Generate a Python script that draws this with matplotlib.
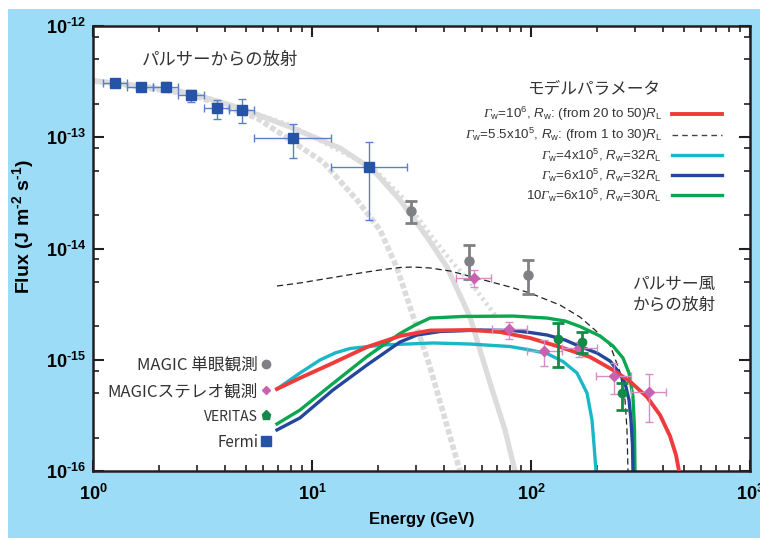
import numpy as np
import matplotlib
matplotlib.use("Agg")
import matplotlib.pyplot as plt
from matplotlib.lines import Line2D
from matplotlib.patches import Rectangle
from matplotlib.ticker import LogLocator, NullFormatter, FixedLocator, FixedFormatter

plt.rcParams['font.family'] = ['Liberation Sans', 'Noto Sans CJK JP', 'DejaVu Sans']
plt.rcParams['mathtext.fontset'] = 'custom'
plt.rcParams['mathtext.rm'] = 'Liberation Sans'
plt.rcParams['mathtext.it'] = 'Liberation Sans:italic'
plt.rcParams['mathtext.bf'] = 'Liberation Sans:bold'
plt.rcParams['mathtext.cal'] = 'Liberation Serif:italic'

JP = ['Noto Sans CJK JP', 'DejaVu Sans']

# ---------------- data ----------------
# Fermi (blue squares)
fermi_e = [1.26, 1.65, 2.15, 2.80, 3.67, 4.78, 8.16, 18.15]
fermi_e_lo = [1.107, 1.434, 1.885, 2.452, 3.213, 4.193, 5.45, 12.17]
fermi_e_hi = [1.434, 1.885, 2.452, 3.213, 4.193, 5.45, 12.17, 27.06]
fermi_f = [3.05e-13, 2.81e-13, 2.85e-13, 2.38e-13, 1.82e-13, 1.75e-13, 9.78e-14, 5.44e-14]
fermi_f_hi = [3.19e-13, 2.95e-13, 3.13e-13, 2.66e-13, 2.16e-13, 2.19e-13, 1.307e-13, 9.12e-14]
fermi_f_lo = [2.92e-13, 2.68e-13, 2.60e-13, 2.07e-13, 1.45e-13, 1.335e-13, 6.55e-14, 1.80e-14]

# MAGIC mono (gray circles)
mono_e = [28.2, 52.3, 97.2]
mono_f = [2.17e-14, 7.77e-15, 5.74e-15]
mono_f_hi = [2.69e-14, 1.075e-14, 7.88e-15]
mono_f_lo = [1.68e-14, 5.32e-15, 3.90e-15]

# MAGIC stereo (magenta diamonds)
stereo_e = [55.1, 79.6, 114.7, 166.2, 239.3, 346.9]
stereo_e_lo = [45.5, 66.2, 95.6, 138.1, 197.4, 286.1]
stereo_e_hi = [65.7, 95.6, 138.1, 199.6, 285.3, 413.5]
stereo_f = [5.40e-15, 1.88e-15, 1.19e-15, 1.28e-15, 7.15e-16, 5.16e-16]
stereo_f_hi = [6.41e-15, 2.20e-15, 1.505e-15, 1.45e-15, 9.41e-16, 7.45e-16]
stereo_f_lo = [4.48e-15, 1.53e-15, 8.79e-16, 1.065e-15, 4.89e-16, 2.77e-16]

# VERITAS (green)
ver_e = [133.3, 170.1, 261.2]
ver_f = [1.527e-15, 1.444e-15, 4.99e-16]
ver_f_hi = [2.155e-15, 1.787e-15, 6.22e-16]
ver_f_lo = [8.66e-16, 1.143e-15, 3.53e-16]

# Pulsar magnetosphere models (gray)
psr_solid_e = [1.0, 1.639, 2.773, 4.69, 7.94, 13.42, 18.99, 25.23, 33.5, 41.34, 52.67, 65.0, 76.1, 84.5, 89.7]
psr_solid_f = [3.21e-13, 2.89e-13, 2.50e-13, 1.83e-13, 1.237e-13, 8.0e-14, 5.08e-14, 2.73e-14,
               1.269e-14, 6.82e-15, 2.42e-15, 6.18e-16, 2.34e-16, 1.0e-16, 7.0e-17]
psr_dash_e = [1.0, 2.773, 5.61, 7.94, 11.23, 16.05, 20.45, 24.44, 34.58, 47.4, 50.5]
psr_dash_f = [3.21e-13, 2.45e-13, 1.489e-13, 9.45e-14, 5.99e-14, 2.73e-14, 1.467e-14, 6.68e-15,
              8.61e-16, 1.0e-16, 7.0e-17]
psr_dot_e = [1.0, 2.773, 7.94, 18.99, 26.59, 35.3, 43.6, 52.67, 68.5]
psr_dot_f = [3.27e-13, 2.55e-13, 1.288e-13, 5.29e-14, 2.73e-14, 1.269e-14, 7.56e-15, 5.0e-15, 2.53e-15]

# Pulsar wind models
red_e = [6.92, 8.81, 12.47, 17.83, 25.23, 34.58, 52.67, 72.2, 98.9, 135.7, 186.0, 236.8, 283.2,
         338.6, 388.2, 431.2, 459.3, 474.0, 484.1]
red_f = [5.46e-16, 6.85e-16, 9.35e-16, 1.302e-15, 1.635e-15, 1.832e-15, 1.85e-15, 1.776e-15,
         1.569e-15, 1.302e-15, 1.059e-15, 8.09e-16, 6.38e-16, 4.63e-16, 3.19e-16, 2.06e-16,
         1.393e-16, 1.0e-16, 7.5e-17]
black_e = [6.92, 8.81, 12.08, 16.57, 20.45, 25.23, 28.93, 34.58, 42.67, 58.5, 80.2, 98.9, 135.7,
           167.4, 196.0, 229.5, 254.9, 268.7, 274.4, 277.3, 277.7]
black_f = [4.60e-15, 4.90e-15, 5.43e-15, 6.02e-15, 6.41e-15, 6.75e-15, 6.82e-15, 6.68e-15,
           6.28e-15, 5.32e-15, 4.51e-15, 3.98e-15, 3.10e-15, 2.42e-15, 1.85e-15, 1.357e-15,
           7.76e-16, 4.35e-16, 2.34e-16, 1.0e-16, 8.1e-17]
cyan_e = [6.92, 8.81, 10.88, 12.74, 14.91, 21.10, 35.68, 52.67, 80.2, 98.9, 118.3, 140.0, 162.2,
          180.2, 189.9, 194.0, 198.1, 199.1]
cyan_f = [5.46e-16, 7.60e-16, 9.95e-16, 1.150e-15, 1.262e-15, 1.357e-15, 1.415e-15, 1.385e-15,
          1.315e-15, 1.224e-15, 1.138e-15, 9.64e-16, 7.60e-16, 5.02e-16, 2.87e-16, 1.713e-16,
          1.0e-16, 7.5e-17]
blue_e = [6.92, 8.81, 12.47, 17.83, 25.23, 30.17, 38.4, 58.5, 82.8, 98.9, 118.3, 143.0, 167.4,
          200.2, 229.5, 249.6, 268.7, 280.3, 286.1, 290.7, 292.2, 292.5]
blue_f = [2.34e-16, 3.00e-16, 5.35e-16, 8.97e-16, 1.444e-15, 1.669e-15, 1.794e-15, 1.85e-15,
          1.832e-15, 1.758e-15, 1.669e-15, 1.505e-15, 1.315e-15, 1.150e-15, 9.74e-16, 7.92e-16,
          6.18e-16, 4.35e-16, 2.87e-16, 1.713e-16, 1.0e-16, 7.5e-17]
green_e = [6.92, 8.81, 12.47, 17.83, 25.23, 29.54, 34.58, 48.9, 82.8, 118.3, 143.0, 167.4, 206.6,
           236.8, 263.0, 280.3, 292.2, 296.9, 298.5, 299.1]
green_f = [2.65e-16, 3.53e-16, 6.12e-16, 1.069e-15, 1.722e-15, 2.05e-15, 2.37e-15, 2.45e-15,
           2.47e-15, 2.37e-15, 2.23e-15, 1.99e-15, 1.635e-15, 1.329e-15, 1.037e-15, 7.60e-16,
           4.63e-16, 2.34e-16, 1.0e-16, 7.5e-17]

model_labels = [
    r'$\mathcal{\Gamma}_{\rm w}$=10$^6$, $R_{\rm w}$: (from 20 to 50)$R_{\rm L}$',
    r'$\mathcal{\Gamma}_{\rm w}$=5.5x10$^5$, $R_{\rm w}$: (from 1 to 30)$R_{\rm L}$',
    r'$\mathcal{\Gamma}_{\rm w}$=4x10$^5$, $R_{\rm w}$=32$R_{\rm L}$',
    r'$\mathcal{\Gamma}_{\rm w}$=6x10$^5$, $R_{\rm w}$=32$R_{\rm L}$',
    r'10$\mathcal{\Gamma}_{\rm w}$=6x10$^5$, $R_{\rm w}$=30$R_{\rm L}$',
]
model_title = 'モデルパラメータ'
data_labels = ['MAGIC 単眼観測', 'MAGICステレオ観測', 'VERITAS', 'Fermi']

x_ticks = [1, 10, 100, 1000]
x_ticklabels = [r'$\mathbf{10^{0}}$', r'$\mathbf{10^{1}}$', r'$\mathbf{10^{2}}$', r'$\mathbf{10^{3}}$']
y_ticks = [1e-16, 1e-15, 1e-14, 1e-13, 1e-12]
y_ticklabels = [r'$\mathbf{10^{‐16}}$', r'$\mathbf{10^{‐15}}$', r'$\mathbf{10^{‐14}}$',
                r'$\mathbf{10^{‐13}}$', r'$\mathbf{10^{‐12}}$']

# ---------------- colours ----------------
C_RED = '#ee3b3b'
C_CYAN = '#1bb7c9'
C_BLUE = '#23479c'
C_GREEN = '#0aa650'
C_GRAYLINE = '#dcdcdd'
C_FERMI = '#2553a6'
C_FERMI_ERR = '#5a80c8'
C_MONO = '#7f8083'
C_STEREO = '#c862b0'
C_STEREO_ERR = '#d98bc6'
C_VER = '#138a48'
C_TEXT = '#333333'

fig = plt.figure(figsize=(7.6, 5.38), dpi=100)
fig.patch.set_facecolor('white')
fig.patches.append(Rectangle((8 / 760, 0), 1, 529 / 538, transform=fig.transFigure,
                             facecolor='#9ddcf6', edgecolor='none', zorder=-10))
ax = fig.add_axes([93 / 760, 67 / 538, 657 / 760, 445 / 538])
ax.set_facecolor('white')
ax.set_xscale('log')
ax.set_yscale('log')
ax.set_xlim(1, 1000)
ax.set_ylim(1e-16, 1e-12)

# gray pulsar curves
ax.plot(psr_solid_e, psr_solid_f, color=C_GRAYLINE, lw=3.8, solid_capstyle='butt', zorder=1)
ax.plot(psr_dash_e, psr_dash_f, color=C_GRAYLINE, lw=4.0, dashes=(1.0, 0.45), zorder=1)
ax.plot(psr_dot_e, psr_dot_f, color=C_GRAYLINE, lw=3.2, dashes=(0.6, 0.8), zorder=1)

# wind models
ax.plot(black_e, black_f, color='#222222', lw=0.9, dashes=(5, 3), zorder=2)
ax.plot(cyan_e, cyan_f, color=C_CYAN, lw=2.4, zorder=2)
ax.plot(green_e, green_f, color=C_GREEN, lw=2.4, zorder=2)
ax.plot(blue_e, blue_f, color=C_BLUE, lw=2.4, zorder=2)
ax.plot(red_e, red_f, color=C_RED, lw=2.8, zorder=3)

def yerr(f, lo, hi):
    f = np.array(f); return [f - np.array(lo), np.array(hi) - f]

def xerr(e, lo, hi):
    e = np.array(e); return [e - np.array(lo), np.array(hi) - e]

ax.errorbar(fermi_e, fermi_f, yerr=yerr(fermi_f, fermi_f_lo, fermi_f_hi),
            xerr=xerr(fermi_e, fermi_e_lo, fermi_e_hi), fmt='s', ms=7.5, color=C_FERMI,
            ecolor=C_FERMI_ERR, elinewidth=1.0, capsize=3, capthick=1.0, zorder=5)
ax.errorbar(mono_e, mono_f, yerr=yerr(mono_f, mono_f_lo, mono_f_hi), fmt='o', ms=6.5,
            color=C_MONO, ecolor=C_MONO, elinewidth=2.0, capsize=4, capthick=2.0, zorder=5)
ax.errorbar(stereo_e, stereo_f, yerr=yerr(stereo_f, stereo_f_lo, stereo_f_hi),
            xerr=xerr(stereo_e, stereo_e_lo, stereo_e_hi), fmt='D', ms=5, color=C_STEREO,
            ecolor=C_STEREO_ERR, elinewidth=1.0, capsize=3, capthick=1.0, zorder=5)
ax.errorbar(ver_e, ver_f, yerr=yerr(ver_f, ver_f_lo, ver_f_hi), fmt='o', ms=6,
            color=C_VER, ecolor=C_VER, elinewidth=2.0, capsize=4, capthick=2.0, zorder=6)

# axes styling
for s in ax.spines.values():
    s.set_linewidth(1.8)
    s.set_color('#231f20')
ax.xaxis.set_major_locator(FixedLocator(x_ticks))
ax.xaxis.set_major_formatter(FixedFormatter(x_ticklabels))
ax.yaxis.set_major_locator(FixedLocator(y_ticks))
ax.yaxis.set_major_formatter(FixedFormatter(y_ticklabels))
ax.xaxis.set_minor_locator(LogLocator(base=10, subs=(2, 3, 4, 5, 6, 7, 8, 9)))
ax.yaxis.set_minor_locator(LogLocator(base=10, subs=(2, 5, 8)))
ax.xaxis.set_minor_formatter(NullFormatter())
ax.yaxis.set_minor_formatter(NullFormatter())
ax.tick_params(which='both', direction='in', top=True, right=True, color='#231f20')
ax.tick_params(which='major', length=8, width=1.5, labelsize=13)
ax.tick_params(which='minor', length=4.5, width=1.2)
ax.tick_params(axis='x', which='major', pad=9)
ax.tick_params(axis='y', which='major', pad=5)

ax.set_xlabel('Energy (GeV)', fontsize=12, fontweight='bold', labelpad=6)
ax.set_ylabel(r'Flux (J m$^{\mathbf{‐2}}$ s$^{\mathbf{‐1}}$)', fontsize=14, fontweight='bold')
ax.yaxis.set_label_coords(-0.087, 0.55)

# annotations
ax.text(0.075, 0.924, 'パルサーからの放射', transform=ax.transAxes, family=JP,
        fontsize=12.5, color=C_TEXT, va='center', ha='left')
ax.text(0.822, 0.395, 'パルサー風\nからの放射', transform=ax.transAxes, family=JP,
        fontsize=12, color=C_TEXT, va='center', ha='left', linespacing=1.3)
ax.text(0.863, 0.858, model_title, transform=ax.transAxes, family=JP,
        fontsize=12, color=C_TEXT, va='center', ha='right')

# model legend
model_handles = [
    Line2D([], [], color=C_RED, lw=2.8),
    Line2D([], [], color='#444444', lw=1.0, dashes=(4, 3)),
    Line2D([], [], color=C_CYAN, lw=2.4),
    Line2D([], [], color=C_BLUE, lw=2.4),
    Line2D([], [], color=C_GREEN, lw=2.4),
]
leg1 = ax.legend(model_handles, model_labels, loc='upper right', bbox_to_anchor=(0.957, 0.822),
                 frameon=False, markerfirst=False, fontsize=9.6, handlelength=3.7,
                 handletextpad=0.8, labelspacing=0.2, borderpad=0, borderaxespad=0)
for t in leg1.get_texts():
    t.set_color(C_TEXT)
ax.add_artist(leg1)

# data legend
data_handles = [
    Line2D([], [], ls='none', marker='o', ms=6, color=C_MONO),
    Line2D([], [], ls='none', marker='D', ms=4.5, color=C_STEREO),
    Line2D([], [], ls='none', marker='p', ms=6.5, color=C_VER),
    Line2D([], [], ls='none', marker='s', ms=6.5, color=C_FERMI),
]
leg2 = ax.legend(data_handles, data_labels, loc='upper right', bbox_to_anchor=(0.269, 0.257),
                 frameon=False, markerfirst=False, handlelength=0.5, handletextpad=0.2,
                 labelspacing=0.57, borderpad=0, borderaxespad=0,
                 prop={'family': JP, 'size': 12})
for i, t in enumerate(leg2.get_texts()):
    t.set_color(C_TEXT)
    if i == 2:
        t.set_fontsize(10)
    if i == 3:
        t.set_fontsize(11)

fig.savefig('out.png', dpi=100, facecolor=fig.get_facecolor())
